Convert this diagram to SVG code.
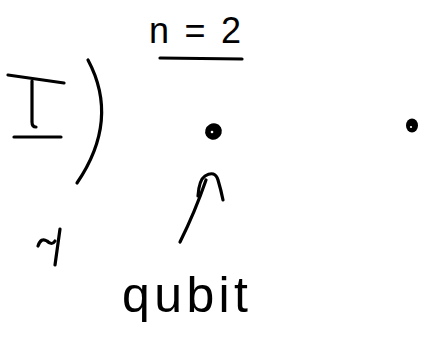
<svg xmlns="http://www.w3.org/2000/svg" width="425" height="339" viewBox="0 0 425 339">
<style>
.ink{fill:none;stroke:#000;stroke-width:3.2;stroke-linecap:round;stroke-linejoin:round}
.txt{font-family:"Liberation Sans",Arial,sans-serif;fill:#000}
.dot{fill:#000}
.hole{fill:#fff}
</style>
<rect width="425" height="339" fill="#fff"/>
<g id="identity">
<path class="ink" d="M8,75 L64,83"/>
<path class="ink" d="M32,81 L32,122 Q32,127 36,127"/>
<path class="ink" d="M14,137 L61,137"/>
</g>
<g id="paren">
<path class="ink" d="M88,60 Q120,120 77,183"/>
</g>
<g id="label-n">
<text class="txt" x="149" y="43" font-size="36" textLength="92" lengthAdjust="spacing">n = 2</text>
<path class="ink" d="M160,58 L242,59"/>
</g>
<g id="qubit1">
<ellipse class="dot" cx="213.5" cy="131.5" rx="8.5" ry="8" transform="rotate(-30 213.5 131.5)"/>
<circle class="hole" cx="212" cy="132" r="1.3"/>
</g>
<g id="qubit2">
<ellipse class="dot" cx="412" cy="125.5" rx="6" ry="7"/>
<circle class="hole" cx="411" cy="127" r="1.1"/>
</g>
<g id="tilde">
<path class="ink" d="M38,246 Q41,237 47,241 Q52,246 55,241"/>
<path class="ink" d="M60,229 L55,265"/>
</g>
<g id="label-qubit">
<text class="txt" x="122" y="312" font-size="50" textLength="126" lengthAdjust="spacing">qubit</text>
</g>
<g id="connectors">
<path class="ink" d="M180,242 Q195,212 206,180"/>
<path class="ink" d="M198,196 Q199,180 205,176 Q215,170 218,180 Q221,190 223,200"/>
</g>
</svg>
